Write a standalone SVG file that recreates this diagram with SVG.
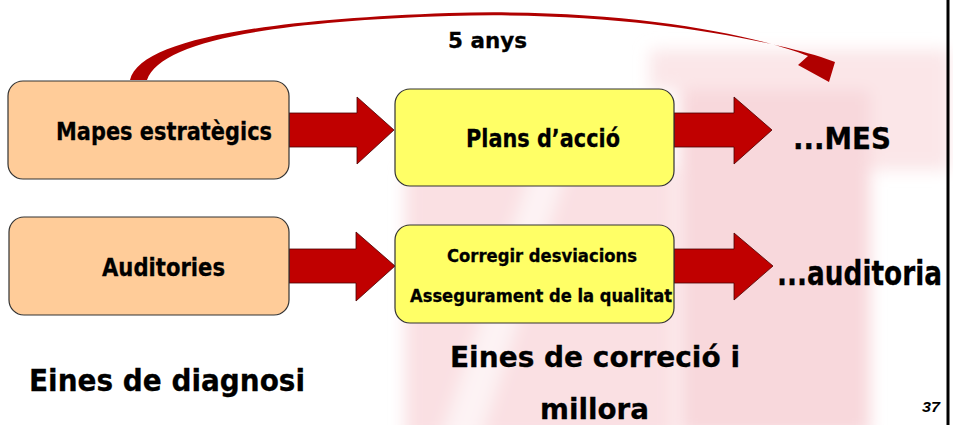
<svg xmlns="http://www.w3.org/2000/svg" width="953" height="425" viewBox="0 0 953 425">
<style>
.t{font-family:"DejaVu Sans","Liberation Sans",sans-serif;font-weight:bold;fill:#000;stroke:#000;stroke-width:0.3}
.peach{fill:#FFCC99;stroke:#333;stroke-width:1.2}
.yellow{fill:#FFFF66;stroke:#333;stroke-width:1.2}
.arr{fill:#C00000;stroke:#4a0000;stroke-width:0.8}
</style>
<defs>
<filter id="soft" x="-10%" y="-10%" width="120%" height="120%"><feGaussianBlur stdDeviation="8"/></filter>
</defs>
<rect width="953" height="425" fill="#fff"/>
<g id="watermark" filter="url(#soft)">
<rect x="405" y="170" width="270" height="270" fill="#fae0e3"/>
<rect x="680" y="55" width="190" height="380" fill="#f8d8dc"/>
<rect x="870" y="50" width="80" height="120" fill="#fbe6e8"/>
<rect x="650" y="50" width="230" height="40" fill="#fbe6e8"/>
<polygon points="440,440 480,440 570,160 535,160" fill="#fdf3f4"/>
</g>
<line x1="948" y1="0" x2="948" y2="425" stroke="#000" stroke-width="3"/>
<g id="connectors">
<path class="arr" d="M289,113 L357,113 L357,97 L394,130 L357,164 L357,147 L289,147 Z"/>
<path class="arr" d="M674,113 L734,113 L734,97 L772,130 L734,164 L734,147 L674,147 Z"/>
<path class="arr" d="M289,249 L356,249 L356,232 L395,266 L356,301 L356,283 L289,283 Z"/>
<path class="arr" d="M674,249 L734,249 L734,233 L773,266 L734,300 L734,283 L674,283 Z"/>
<path fill="#B00000" d="M130,80 C140,40 260,20 449,13 C620,8 750,33 808,56 L798,65 L829,82 L835,62 L821,57 C750,36 620,11 449,16 C265,22 160,42 147,80 Z"/>
<text class="t" x="448" y="48" font-size="22" textLength="79" lengthAdjust="spacingAndGlyphs">5 anys</text>
</g>
<g id="mapes">
<rect class="peach" x="8" y="81" width="281" height="98" rx="15"/>
<text class="t" x="56" y="140" font-size="25" textLength="216" lengthAdjust="spacingAndGlyphs">Mapes estratègics</text>
</g>
<g id="plans">
<rect class="yellow" x="395" y="89" width="279" height="97" rx="15"/>
<text class="t" x="466" y="147" font-size="25" textLength="154" lengthAdjust="spacingAndGlyphs">Plans d’acció</text>
</g>
<g id="mes">
<text class="t" x="793" y="149" font-size="30" textLength="98" lengthAdjust="spacingAndGlyphs">...MES</text>
</g>
<g id="auditories">
<rect class="peach" x="9" y="217" width="280" height="98" rx="15"/>
<text class="t" x="102" y="276" font-size="25" textLength="123" lengthAdjust="spacingAndGlyphs">Auditories</text>
</g>
<g id="corregir">
<rect class="yellow" x="395" y="225" width="279" height="98" rx="15"/>
<text class="t" x="447" y="262" font-size="17" textLength="190" lengthAdjust="spacingAndGlyphs">Corregir desviacions</text>
<text class="t" x="410" y="302" font-size="17" textLength="262" lengthAdjust="spacingAndGlyphs">Assegurament de la qualitat</text>
</g>
<g id="auditoria">
<text class="t" x="777" y="285" font-size="33" textLength="165" lengthAdjust="spacingAndGlyphs">...auditoria</text>
</g>
<g id="labels">
<text class="t" x="29" y="391" font-size="31" textLength="276" lengthAdjust="spacingAndGlyphs">Eines de diagnosi</text>
<text class="t" x="450" y="367" font-size="29" textLength="290" lengthAdjust="spacingAndGlyphs">Eines de correció i</text>
<text class="t" x="540" y="419" font-size="29" textLength="109" lengthAdjust="spacingAndGlyphs">millora</text>
<text x="922" y="412" font-family="Liberation Sans,Arial,sans-serif" font-weight="bold" font-style="italic" font-size="14" textLength="18" lengthAdjust="spacingAndGlyphs">37</text>
</g>
</svg>
